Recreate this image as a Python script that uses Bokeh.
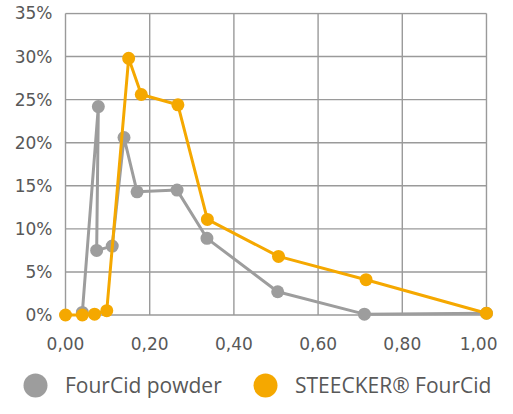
from bokeh.plotting import figure
from bokeh.models import Range1d, FixedTicker, Legend, LegendItem
from bokeh.layouts import column
from bokeh.embed import file_html
from bokeh.resources import INLINE

# ---- data ----
x_ticks = [0.0, 0.2, 0.4, 0.6, 0.8, 1.0]
x_labels = ["0,00", "0,20", "0,40", "0,60", "0,80", "1,00"]
y_ticks = [0, 5, 10, 15, 20, 25, 30, 35]
y_labels = ["0%", "5%", "10%", "15%", "20%", "25%", "30%", "35%"]

powder_name = "FourCid powder"
powder_x = [0.040, 0.078, 0.074, 0.111, 0.139, 0.170, 0.265, 0.336, 0.504, 0.710, 1.000]
powder_y = [0.3, 24.2, 7.5, 8.0, 20.6, 14.3, 14.5, 8.9, 2.7, 0.1, 0.2]

steecker_name = "STEECKER\u00ae FourCid"
steecker_x = [0.000, 0.040, 0.069, 0.098, 0.150, 0.180, 0.267, 0.337, 0.506, 0.714, 1.000]
steecker_y = [0.0, 0.0, 0.1, 0.5, 29.8, 25.6, 24.4, 11.1, 6.8, 4.1, 0.2]

# ---- style ----
GRAY = "#9d9d9d"
ORANGE = "#f5a800"
GRID = "#9a9a9a"
TEXT = "#585858"
AXIS_FONT = "DejaVu Sans"
LEGEND_FONT = "Open Sans"

p = figure(width=497, height=358, output_backend="svg", toolbar_location=None,
           x_range=Range1d(-0.0309, 1.0238), y_range=Range1d(-1.567, 35.116),
           min_border_left=52, min_border_right=1, min_border_top=12, min_border_bottom=30)
p.outline_line_color = None
p.xgrid.visible = False
p.ygrid.visible = False

# grid drawn from tick arrays
p.segment(x0=x_ticks, y0=[y_ticks[0]] * len(x_ticks), x1=x_ticks, y1=[y_ticks[-1]] * len(x_ticks),
          line_color=GRID, line_width=1.4)
p.segment(x0=[x_ticks[0]] * len(y_ticks), y0=y_ticks, x1=[x_ticks[-1]] * len(y_ticks), y1=y_ticks,
          line_color=GRID, line_width=1.4)

# series
p.line(powder_x, powder_y, line_color=GRAY, line_width=3)
p.scatter(powder_x, powder_y, size=13, fill_color=GRAY, line_color=None)
p.line(steecker_x, steecker_y, line_color=ORANGE, line_width=3)
p.scatter(steecker_x, steecker_y, size=13, fill_color=ORANGE, line_color=None)

# axes
for ax in (p.xaxis[0], p.yaxis[0]):
    ax.axis_line_color = None
    ax.major_tick_line_color = None
    ax.minor_tick_line_color = None
    ax.major_tick_in = 0
    ax.major_tick_out = 0
    ax.major_label_text_font = AXIS_FONT
    ax.major_label_text_font_size = "17px"
    ax.major_label_text_color = TEXT

p.xaxis[0].ticker = FixedTicker(ticks=x_ticks)
p.xaxis[0].major_label_overrides = dict(zip(x_ticks, x_labels))
p.xaxis[0].major_label_standoff = 8
p.yaxis[0].ticker = FixedTicker(ticks=y_ticks)
p.yaxis[0].major_label_overrides = dict(zip(y_ticks, y_labels))
p.yaxis[0].major_label_standoff = 0

# legend strip as a second, axis-less figure
leg = figure(width=497, height=40, output_backend="svg", toolbar_location=None,
             x_range=Range1d(0, 1), y_range=Range1d(0, 1),
             x_axis_location=None, y_axis_location=None,
             min_border=0, outline_line_color=None)
leg.frame_align = False
leg.grid.visible = False
# hidden proxy renderers (one sample each) that give the legend its swatches
r1 = leg.scatter(powder_x[:1], powder_y[:1], size=24, fill_color=GRAY, line_color=None, visible=False)
r2 = leg.scatter(steecker_x[:1], steecker_y[:1], size=24, fill_color=ORANGE, line_color=None, visible=False)
for r, name, loc in ((r1, powder_name, (5, -17)), (r2, steecker_name, (235, -17))):
    lg = Legend(items=[LegendItem(label=name, renderers=[r])], location=loc,
                glyph_width=60, glyph_height=60, label_standoff=0,
                padding=0, margin=0, spacing=0,
                border_line_color=None, background_fill_alpha=0,
                label_text_font=LEGEND_FONT, label_text_font_size="21px",
                label_text_color=TEXT)
    leg.add_layout(lg, "center")

layout = column(p, leg, spacing=0)
open("out.html", "w").write(file_html(layout, INLINE))
